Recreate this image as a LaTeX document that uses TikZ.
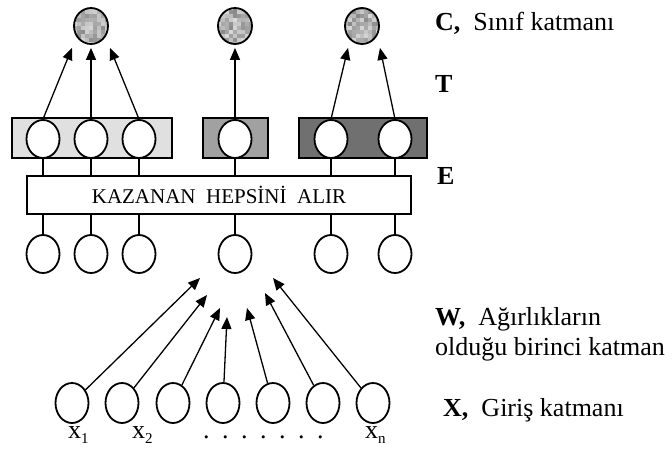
\documentclass[tikz,border=0pt]{standalone}
\usepackage{fontspec}
\setmainfont{Liberation Serif}
\usetikzlibrary{shapes.geometric, arrows.meta}

\newcommand{\lowidx}[1]{\raisebox{-5pt}{\fontsize{15}{15}\selectfont #1}}

\begin{document}
\begin{tikzpicture}[x=1pt, y=-1pt,
  unit/.style={ellipse, draw, line width=1.8pt, fill=white, minimum width=33pt, minimum height=38pt, inner sep=0pt},
  outunit/.style={unit, minimum width=34pt, minimum height=36pt,
    path picture={\foreach \u in {-18,-14,...,14}{\foreach \v in {-20,-16,...,16}{
      \pgfmathsetmacro\greyval{15+32*rnd}
      \fill[black!\greyval] ([shift={(\u,\v)}]path picture bounding box.center) rectangle +(4,4);}}}},
  group/.style={draw, line width=1.3pt, minimum height=40pt, inner sep=0pt},
  link/.style={line width=1.3pt},
  arr/.style={link, -{Triangle[length=12pt,width=10pt]}},
  lbl/.style={anchor=base west, inner sep=0pt, font=\fontsize{26}{30}\selectfont}]
\useasboundingbox (0,0) rectangle (672,450);
\pgfmathsetseed{11}

% class layer
\node[outunit] (c1) at (91,26) {};
\node[outunit] (c2) at (235,26) {};
\node[outunit] (c3) at (362,26) {};

% grey groups
\node[group, fill=black!12, minimum width=160pt] (g1) at (92,138) {};
\node[group, fill=black!37, minimum width=65pt] (g2) at (235.5,138) {};
\node[group, fill=black!56, minimum width=128pt] (g3) at (363,138) {};

% hidden units, winner box, lower units
\foreach \k/\xx in {1/43, 2/91, 3/139, 4/235, 5/331, 6/395} {
  \node[unit] (h\k) at (\xx,139) {};
  \node[unit] (l\k) at (\xx,254) {};
}
\node[draw, line width=1.8pt, fill=white, minimum width=384pt, minimum height=38pt, inner sep=0pt,
  font=\fontsize{21}{24}\selectfont] (wta) at (219,195) {KAZANAN~~HEPSİNİ~~ALIR};

\foreach \k in {1,...,6} {
  \draw[link] (h\k.south) -- (h\k.south |- wta.north);
  \draw[link] (l\k.north |- wta.south) -- (l\k.north);
}

% to the class layer
\draw[arr] (h1.north) -- ([xshift=-19pt,yshift=-3pt]c1.south);
\draw[arr] (h2.north) -- ([yshift=-3pt]c1.south);
\draw[arr] (h3.north) -- ([xshift=19pt,yshift=-3pt]c1.south);
\draw[arr] (h4.north) -- ([yshift=-3pt]c2.south);
\draw[arr] (h5.north) -- ([xshift=-14pt,yshift=-3pt]c3.south);
\draw[arr] (h6.north) -- ([xshift=18pt,yshift=-3pt]c3.south);

% input layer
\foreach \j/\xx in {1/72, 2/122, 3/173, 4/223, 5/273, 6/323, 7/373}
  \node[unit, minimum height=40pt] (i\j) at (\xx,403) {};

\foreach \j/\dx/\dy in {1/-35/24, 2/-28/41, 3/-15/54, 4/-8/63, 5/12/54, 6/30/39, 7/38/24}
  \draw[arr] (i\j) -- ([shift={(\dx,\dy)}]l4.center);

\node[lbl] (x1) at ([shift={(-4,35)}]i1.center) {x\lowidx{1}};
\node[lbl] (x2) at ([shift={(10,35)}]i2.center) {x\lowidx{2}};
\node[lbl] (xn) at ([shift={(-8,35)}]i7.center) {x\lowidx{n}};
\node[lbl] (dots) at (203,438) {.\hspace{12.5pt}.\hspace{12.5pt}.\hspace{12.5pt}.\hspace{12.5pt}.\hspace{12.5pt}.\hspace{12.5pt}.};

% layer names
\node[lbl] (lc) at (435,30) {\textbf{C,}~~Sınıf katmanı};
\node[lbl] (lt) at (435,92) {\textbf{T}};
\node[lbl] (le) at (437,184) {\textbf{E}};
\node[lbl] (lw) at (435,325) {\textbf{W,}~~Ağırlıkların};
\node[lbl] (lw2) at (435,355) {olduğu birinci katman};
\node[lbl] (lx) at (443,416) {\textbf{X,}~~Giriş katmanı};
\end{tikzpicture}
\end{document}
